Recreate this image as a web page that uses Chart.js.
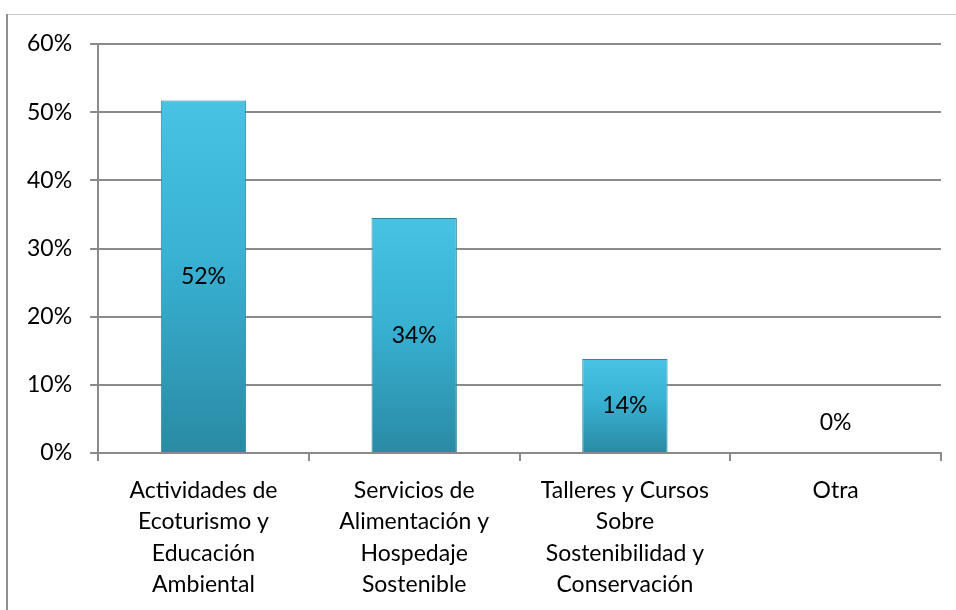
<!DOCTYPE html>
<html lang="es">
<head>
<meta charset="UTF-8">
<title>Preferencias</title>
<script src="https://cdn.jsdelivr.net/npm/chart.js"></script>
<style>
  body { margin: 0; background: #fff; }
  #frameTop { position: absolute; left: 6px; top: 14px; right: 0; height: 0; border-top: 1px solid #c9c9c9; }
  #frameLeft { position: absolute; left: 6px; top: 14px; bottom: 0; width: 0; border-left: 2px solid #8f8f8f; }
  #wrap { position: absolute; left: 0; top: 0; width: 956px; height: 610px; }
</style>
</head>
<body>
<div id="frameTop"></div>
<div id="frameLeft"></div>
<div id="wrap"><canvas id="chart" width="956" height="610"></canvas></div>
<script>
// categorias y valores (porcentaje de respuestas)
var categorias = [
    ['Actividades de', 'Ecoturismo y', 'Educación', 'Ambiental'],
    ['Servicios de', 'Alimentación y', 'Hospedaje', 'Sostenible'],
    ['Talleres y Cursos', 'Sobre', 'Sostenibilidad y', 'Conservación'],
    ['Otra']
];
var valores = [51.72, 34.48, 13.79, 0];
var ticksY = [0, 10, 20, 30, 40, 50, 60];

var fuente = "Lato, 'Open Sans', sans-serif";
var gris = '#8a8a8a';

function rellenoBarra(ctx) {
    var chart = ctx.chart;
    var y = chart.scales.y;
    if (!y || ctx.raw === undefined) return '#38afd0';
    var top = y.getPixelForValue(ctx.raw);
    var bottom = y.getPixelForValue(0);
    if (!isFinite(top) || !isFinite(bottom) || bottom - top < 1) return '#38afd0';
    var g = chart.ctx.createLinearGradient(0, top, 0, bottom);
    g.addColorStop(0, '#48c3e4');
    g.addColorStop(0.45, '#38b1d3');
    g.addColorStop(1, '#2a8aa4');
    return g;
}

// etiquetas de datos centradas en cada barra
var etiquetas = {
    id: 'etiquetas',
    afterDatasetsDraw: function(chart) {
        var c = chart.ctx;
        var meta = chart.getDatasetMeta(0);
        var y = chart.scales.y;
        c.save();
        c.font = '23px ' + fuente;
        c.fillStyle = '#000';
        c.textAlign = 'center';
        c.textBaseline = 'middle';
        meta.data.forEach(function(bar, i) {
            var v = valores[i];
            var pos;
            if (v === 0) {
                pos = y.getPixelForValue(0) - 30;
            } else {
                pos = (y.getPixelForValue(v) + y.getPixelForValue(0)) / 2;
            }
            c.fillText(Math.round(v) + '%', bar.x, pos);
        });
        c.restore();
    }
};

new Chart(document.getElementById('chart').getContext('2d'), {
    type: 'bar',
    data: {
        labels: categorias,
        datasets: [{
            data: valores,
            backgroundColor: rellenoBarra,
            borderColor: '#2b86a0',
            borderWidth: 1,
            categoryPercentage: 1,
            barPercentage: 0.405
        }]
    },
    options: {
        responsive: false,
        animation: false,
        layout: { padding: { top: 44, right: 15, left: 9, bottom: 4 } },
        plugins: { legend: { display: false }, tooltip: { enabled: false } },
        scales: {
            x: {
                afterFit: function(axis) { axis.height = 153; },
                grid: { offset: true, drawOnChartArea: false, color: gris, lineWidth: 2, tickLength: 8 },
                border: { display: true, color: gris, width: 2 },
                ticks: { color: '#000', font: { family: fuente, size: 23, lineHeight: 1.36 }, padding: 14, maxRotation: 0, autoSkip: false }
            },
            y: {
                min: 0,
                max: 60,
                afterBuildTicks: function(axis) {
                    axis.ticks = ticksY.map(function(v) { return { value: v }; });
                },
                grid: { color: gris, lineWidth: 2, tickLength: 8 },
                border: { display: true, color: gris, width: 2 },
                ticks: {
                    color: '#000',
                    font: { family: fuente, size: 23 },
                    padding: 18,
                    callback: function(v) { return v + '%'; }
                }
            }
        }
    },
    plugins: [etiquetas]
});
</script>
</body>
</html>
